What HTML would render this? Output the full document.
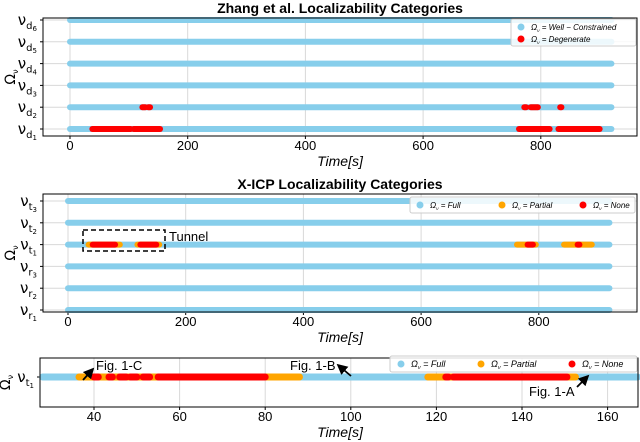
<!DOCTYPE html>
<html><head><meta charset="utf-8"><style>
body{margin:0;background:#fff;}
svg{display:block;font-family:"Liberation Sans","DejaVu Sans",sans-serif;}
</style></head><body>
<svg id="c" width="640" height="442" viewBox="0 0 640 442"></svg>
<script>
// ---- data ----
const p1Rows = ['d6','d5','d4','d3','d2','d1'];
const p1Full = [[[0,920]],[[0,920]],[[0,920]],[[0,920]],[[0,920]],[[0,920]]];
const p1Degenerate = [[],[],[],[],[[123,128],[133,136],[772,775],[783,795],[833,835]],[[38,103],[108,153],[763,815],[830,900]]];
const p2Rows = ['t3','t2','t1','r3','r2','r1'];
const p2Full = [[[0,920]],[[0,920]],[[0,920]],[[0,920]],[[0,920]],[[0,920]]];
const p2Partial = [[],[],[[35,88],[118,155],[763,795],[843,890]],[],[],[]];
const p2None = [[],[],[[42,80],[123,150],[781,790],[866,869]],[],[],[]];
const p3Full = [[28,167]];
const p3Partial = [[36.5,88],[118,152.5]];
const p3None = [[40,41],[43.5,44.3],[46,47.5],[48.5,50],[51.5,53],[55,80],[122.2,122.8],[124,150.5]];
const xTicks12 = [0,200,400,600,800];
const xTicks3 = [40,60,80,100,120,140,160];

const svg = document.getElementById('c');
const NS='http://www.w3.org/2000/svg';
function mk(tag, attrs, parent){const e=document.createElementNS(NS,tag);for(const k in attrs)e.setAttribute(k,attrs[k]);(parent||svg).appendChild(e);return e;}
const BLUE='#87ceeb', ORANGE='#ffa500', RED='#ff0000';

function panel(o){
  const g=mk('g',{});
  
  
  const x=v=>o.x0+(v-o.d0)*o.k;
  const y=i=>o.top+o.pad+i*o.step;
  o.ticks.forEach(t=>{
    const l=mk('line',{x1:x(t),x2:x(t),y1:o.top,y2:o.bottom,stroke:'#d8d8d8','stroke-width':1},g);
    
    const tl=mk('text',{x:x(t),y:o.bottom+14,'font-size':13,'text-anchor':'middle',fill:'#000'},g);
    tl.textContent=t;
    
    mk('line',{x1:x(t),x2:x(t),y1:o.bottom,y2:o.bottom+3,stroke:'#000'},g);
  });
  o.rows.forEach((r,i)=>{
    mk('line',{x1:o.left,x2:o.right,y1:y(i),y2:y(i),stroke:'#d8d8d8'},g);
    mk('line',{x1:o.left-3,x2:o.left,y1:y(i),y2:y(i),stroke:'#000'},g);
    const t=mk('text',{x:o.left-6,y:y(i)+5,'font-size':15,'text-anchor':'end','font-family':'DejaVu Sans, sans-serif'},g);
    t.innerHTML='ν<tspan font-size="10" dy="4">'+r.charAt(0)+'</tspan><tspan font-size="7" dy="2">'+r.slice(1)+'</tspan>';
    
  });
  o.series.forEach(s=>{
    s.data.forEach((segs,i)=>segs.forEach(sg=>{
      const l=mk('line',{x1:x(sg[0]),x2:x(sg[1]),y1:y(i),y2:y(i),stroke:s.color,'stroke-width':o.sw,'stroke-linecap':'round'},g);
      
    }));
  });
  mk('rect',{x:o.left,y:o.top,width:o.right-o.left,height:o.bottom-o.top,fill:'none',stroke:'#000','stroke-width':1},g);
  if(o.title){const t=mk('text',{x:340,y:o.top-5,'font-size':14,'font-weight':'bold','text-anchor':'middle'},g);t.textContent=o.title;}
  if(o.xlabel){const t=mk('text',{x:340,y:o.bottom+30,'font-size':14,'font-style':'italic','text-anchor':'middle'},g);t.textContent='Time[s]';}
  const yl=mk('text',{x:0,y:0,'font-size':14,'text-anchor':'middle','font-family':'DejaVu Sans, sans-serif',transform:`translate(${o.yt},${(o.top+o.bottom)/2}) rotate(-90)`},g);
  yl.innerHTML='Ω<tspan font-size="8" dy="3">ν</tspan>';
  
  return g;
}
panel({name:'zhang-panel',title:'Zhang et al. Localizability Categories',xlabel:true,left:43,right:637,top:18,bottom:136,pad:2,step:21.8,x0:70,d0:0,k:0.5885,ticks:xTicks12,rows:p1Rows,sw:6,yt:15,
  series:[{name:'well-constrained-series',color:BLUE,data:p1Full},{name:'degenerate-series',color:RED,data:p1Degenerate}]});
panel({name:'xicp-panel',title:'X-ICP Localizability Categories',xlabel:true,left:43,right:637,top:194,bottom:312,pad:7,step:21.8,x0:68,d0:0,k:0.5885,ticks:xTicks12,rows:p2Rows,sw:6,yt:15,
  series:[{name:'full-series',color:BLUE,data:p2Full},{name:'partial-series',color:ORANGE,data:p2Partial},{name:'none-series',color:RED,data:p2None}]});
panel({name:'zoom-panel',title:null,xlabel:true,left:40,right:638,top:358,bottom:407,pad:19,step:0,x0:94,d0:40,k:4.28,ticks:xTicks3,rows:['t1'],sw:7,yt:10,
  series:[{name:'full-series',color:BLUE,data:[p3Full]},{name:'partial-series',color:ORANGE,data:[p3Partial]},{name:'none-series',color:RED,data:[p3None]}]});

function legend(name,x,y,w,h,items,cols,fs){
  const g=mk('g',{});
  mk('rect',{x,y,width:w,height:h,fill:'#fff',stroke:'#ccc','fill-opacity':0.85,rx:2},g);
  items.forEach((it,i)=>{
    const ix=cols?x+10+it.dx:x+10, iy=cols?y+h/2:y+8+i*12;
    mk('circle',{cx:ix,cy:iy,r:3.5,fill:it.c},g);
    const t=mk('text',{x:ix+10,y:iy+3,'font-size':fs,'font-style':'italic'},g);
    t.innerHTML='Ω<tspan font-size="'+(fs*0.6)+'" dy="2">ν</tspan><tspan dy="-2"> = '+it.t+'</tspan>';
    
  });
}
legend('zhang-legend',511,19,125,27,[{c:BLUE,t:'Well − Constrained'},{c:RED,t:'Degenerate'}],false,8);
legend('xicp-legend',410,197,225,16,[{c:BLUE,t:'Full',dx:0},{c:ORANGE,t:'Partial',dx:82},{c:RED,t:'None',dx:163}],true,8);
legend('zoom-legend',390,356,247,16,[{c:BLUE,t:'Full',dx:1},{c:ORANGE,t:'Partial',dx:81},{c:RED,t:'None',dx:172}],true,9);

mk('rect',{x:83,y:230,width:82,height:21,fill:'none',stroke:'#000','stroke-width':1.5,'stroke-dasharray':'5,3'});
function txt(s,x,y,n){const t=mk('text',{x,y,'font-size':13});t.textContent=s;}
txt('Tunnel',169,241,'tunnel-label');
txt('Fig. 1-C',96,370,'fig1c-label');
txt('Fig. 1-B',290,370,'fig1b-label');
txt('Fig. 1-A',529,396,'fig1a-label');
mk('defs',{}).innerHTML='<marker id="ah" markerWidth="6" markerHeight="6" refX="5" refY="3" orient="auto"><path d="M0,0L6,3L0,6z" fill="#000"/></marker>';
[[83,380,93,369],[351,376,338,365],[577,387,588,376]].forEach(a=>{const l=mk('line',{x1:a[0],y1:a[1],x2:a[2],y2:a[3],stroke:'#000','stroke-width':1.8,'marker-end':'url(#ah)'});});
</script>
</body></html>
